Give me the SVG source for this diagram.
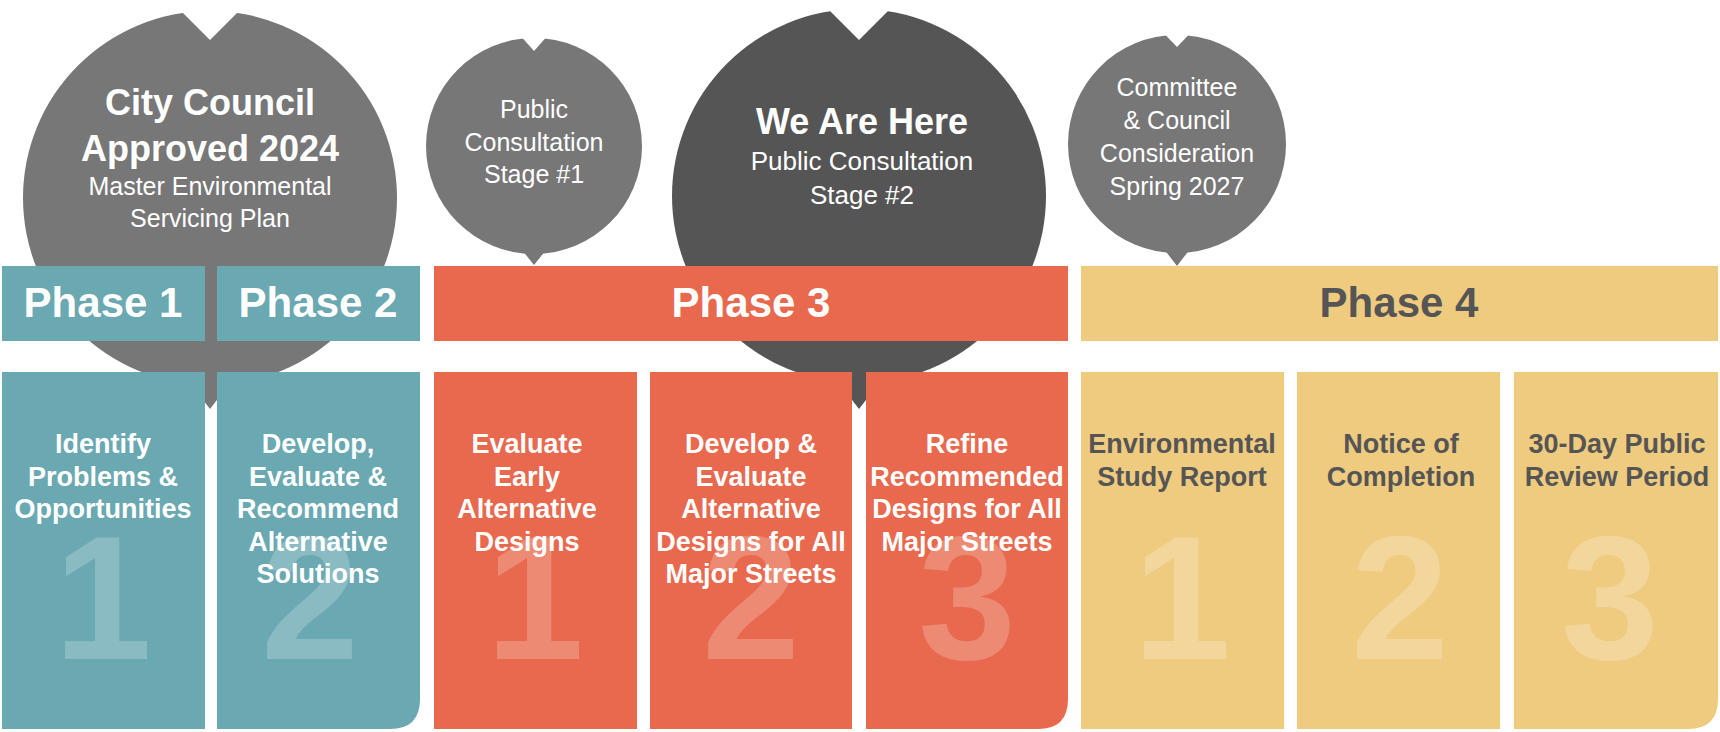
<svg xmlns="http://www.w3.org/2000/svg" width="1720" height="732" viewBox="0 0 1720 732">
<style>
.t{fill:#6AA8B2}.r{fill:#E8694E}.y{fill:#EFCB80}.g{fill:#777}.d{fill:#555}
text{font-family:"Liberation Sans",Arial,sans-serif;text-anchor:middle}
.ph{font-size:42px;font-weight:bold;fill:#fff}
.bx{font-size:27px;font-weight:bold;fill:#fff}
.dk{fill:#555}
.num{font-size:176px;font-weight:bold;fill:#fff;fill-opacity:0.22}
.bb{font-size:36px;font-weight:bold;fill:#fff}
.bs{font-size:25px;fill:#fff}
</style>
<rect width="1720" height="732" fill="#fff"/>
<g id="bubble1">
<circle class="g" cx="210" cy="198" r="187"/>
<polygon fill="#fff" points="170,0 210,40 250,0"/>
<polygon class="g" points="180,370 210,409 240,370"/>
</g>
<g id="bubble3">
<circle class="d" cx="859" cy="196" r="187"/>
<polygon fill="#fff" points="819,0 859,40 899,0"/>
<polygon class="d" points="829,370 859,409 889,370"/>
</g>
<g id="bubble2">
<circle class="g" cx="534" cy="146" r="108"/>
<polygon fill="#fff" points="510,24 534,51 558,24"/>
<polygon class="g" points="514,240 534,265 554,240"/>
<text class="bs" x="534" y="118">Public</text>
<text class="bs" x="534" y="151">Consultation</text>
<text class="bs" x="534" y="183">Stage #1</text>
</g>
<g id="bubble4">
<circle class="g" cx="1177" cy="144" r="109"/>
<polygon fill="#fff" points="1153,22 1177,47 1201,22"/>
<polygon class="g" points="1157,240 1177,266 1197,240"/>
<text class="bs" x="1177" y="96">Committee</text>
<text class="bs" x="1177" y="129">&amp; Council</text>
<text class="bs" x="1177" y="162">Consideration</text>
<text class="bs" x="1177" y="195">Spring 2027</text>
</g>
<g id="phases">
<rect class="t" x="2" y="266" width="203" height="75"/>
<rect class="t" x="217" y="266" width="203" height="75"/>
<rect class="r" x="434" y="266" width="634" height="75"/>
<rect class="y" x="1081" y="266" width="637" height="75"/>
<text class="ph" x="103" y="317">Phase 1</text>
<text class="ph" x="318" y="317">Phase 2</text>
<text class="ph" x="751" y="317">Phase 3</text>
<text class="ph dk" x="1399" y="317">Phase 4</text>
</g>
<g id="bubble-text">
<text class="bb" x="210" y="115">City Council</text>
<text class="bb" x="210" y="161">Approved 2024</text>
<text class="bs" x="210" y="195">Master Environmental</text>
<text class="bs" x="210" y="227">Servicing Plan</text>
<text class="bb" x="862" y="134">We Are Here</text>
<text class="bs" x="862" y="170" style="font-size:26px">Public Consultation</text>
<text class="bs" x="862" y="204" style="font-size:26px">Stage #2</text>
</g>
<g id="box-t1"><rect class="t" x="2" y="372" width="203" height="357"/>
<text class="num" x="103" y="659">1</text>
<text class="bx" x="103" y="453">Identify</text><text class="bx" x="103" y="485.5">Problems &amp;</text><text class="bx" x="103" y="518">Opportunities</text></g>
<g id="box-t2"><path class="t" d="M217,372H420V699Q420,729 390,729H217Z"/>
<text class="num" x="310" y="659">2</text>
<text class="bx" x="318" y="453">Develop,</text><text class="bx" x="318" y="485.5">Evaluate &amp;</text><text class="bx" x="318" y="518">Recommend</text><text class="bx" x="318" y="550.5">Alternative</text><text class="bx" x="318" y="583">Solutions</text></g>
<g id="box-r1"><rect class="r" x="434" y="372" width="203" height="357"/>
<text class="num" x="535" y="659">1</text>
<text class="bx" x="527" y="453">Evaluate</text><text class="bx" x="527" y="485.5">Early</text><text class="bx" x="527" y="518">Alternative</text><text class="bx" x="527" y="550.5">Designs</text></g>
<g id="box-r2"><rect class="r" x="650" y="372" width="202" height="357"/>
<text class="num" x="751" y="659">2</text>
<text class="bx" x="751" y="453">Develop &amp;</text><text class="bx" x="751" y="485.5">Evaluate</text><text class="bx" x="751" y="518">Alternative</text><text class="bx" x="751" y="550.5">Designs for All</text><text class="bx" x="751" y="583">Major Streets</text></g>
<g id="box-r3"><path class="r" d="M866,372H1068V699Q1068,729 1038,729H866Z"/>
<text class="num" x="967" y="659">3</text>
<text class="bx" x="967" y="453">Refine</text><text class="bx" x="967" y="485.5">Recommended</text><text class="bx" x="967" y="518">Designs for All</text><text class="bx" x="967" y="550.5">Major Streets</text></g>
<g id="box-y1"><rect class="y" x="1081" y="372" width="203" height="357"/>
<text class="num" x="1182" y="659">1</text>
<text class="bx dk" x="1182" y="453">Environmental</text><text class="bx dk" x="1182" y="485.5">Study Report</text></g>
<g id="box-y2"><rect class="y" x="1297" y="372" width="203" height="357"/>
<text class="num" x="1400" y="659">2</text>
<text class="bx dk" x="1401" y="453">Notice of</text><text class="bx dk" x="1401" y="485.5">Completion</text></g>
<g id="box-y3"><path class="y" d="M1514,372H1718V699Q1718,729 1688,729H1514Z"/>
<text class="num" x="1610" y="659">3</text>
<text class="bx dk" x="1617" y="453">30-Day Public</text><text class="bx dk" x="1617" y="485.5">Review Period</text></g>
<g id="connectors"/>
</svg>
